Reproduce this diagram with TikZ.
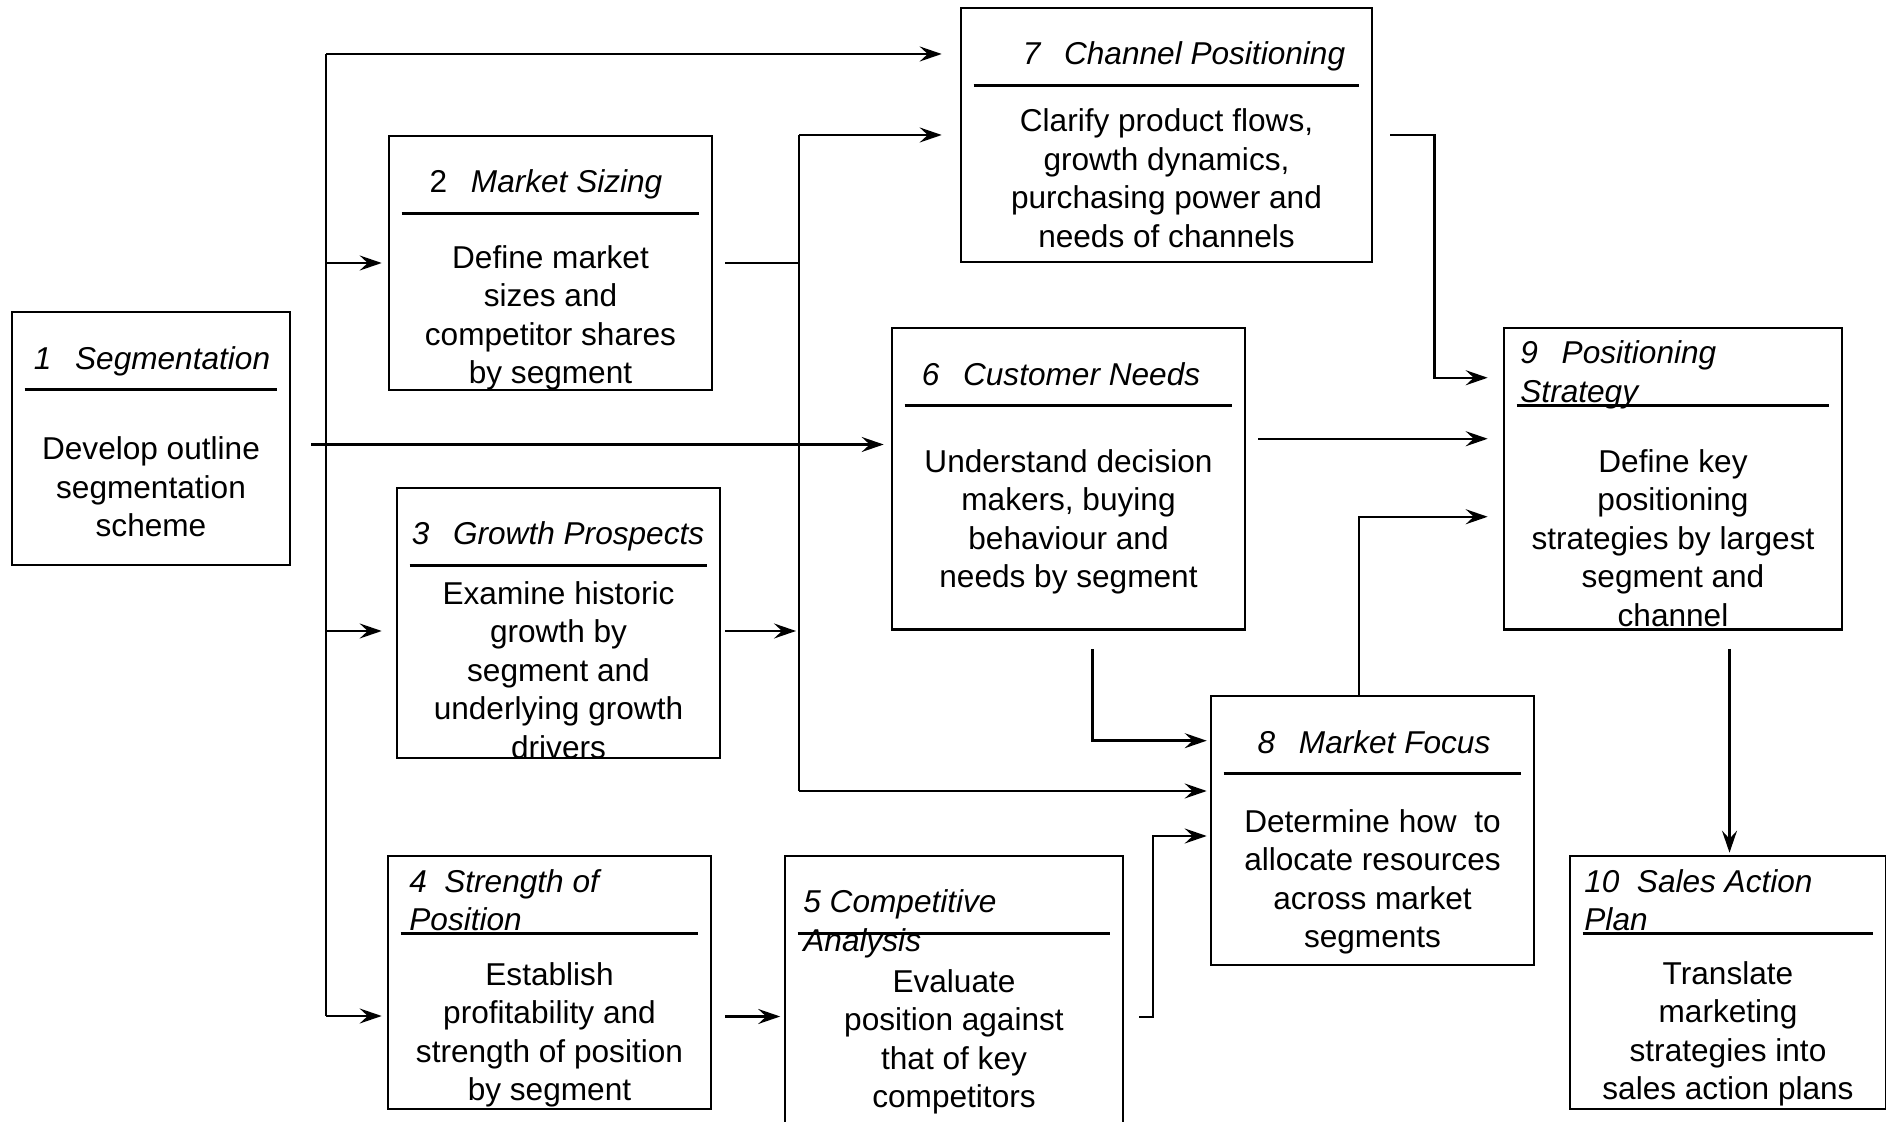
\documentclass[tikz,border=0pt]{standalone}
\usepackage{fontspec}
\setmainfont{Liberation Sans}
\usetikzlibrary{arrows.meta, calc, positioning}
\newcommand{\drawc}{\draw[line width=1.2pt]}
\newcommand{\fnt}{\fontsize{15.8}{19.25}\selectfont}

\begin{document}
\begin{tikzpicture}[x=0.5pt, y=-0.5pt, >={Stealth[length=11pt, width=7.5pt, inset=4pt]},
  stage/.style={draw, line width=1.3pt, inner sep=0pt},
  ttl/.style={font=\fnt\itshape, inner sep=0pt},
  txt/.style={font=\fnt, align=center, inner sep=0pt},
  rule/.style={line width=1.4pt}]
\useasboundingbox (0,0) rectangle (1886,1122);
% Khung cac buoc
\node[stage, minimum width=139pt, minimum height=126.5pt] (b1) at (151,438.5) {};
\node[stage, minimum width=161.5pt, minimum height=127pt] (b2) at (550.5,263) {};
\node[stage, minimum width=161.5pt, minimum height=135pt] (b3) at (558.5,623) {};
\node[stage, minimum width=161.5pt, minimum height=126.5pt] (b4) at (549.5,982.5) {};
\node[stage, minimum width=169pt, minimum height=139.5pt] (b5) at (954,995.5) {};
\node[stage, minimum width=176.5pt, minimum height=150.75pt] (b6) at (1068.5,478.75) {};
\node[stage, minimum width=205.5pt, minimum height=127pt] (b7) at (1166.5,135) {};
\node[stage, minimum width=161.5pt, minimum height=134.5pt] (b8) at (1372.5,830.5) {};
\node[stage, minimum width=169pt, minimum height=150.75pt] (b9) at (1673,478.75) {};
\node[stage, minimum width=158pt, minimum height=126.5pt] (b10) at (1728,982.5) {};
\foreach \b in {b1,b2,b3,b4,b5,b6,b7,b8,b9,b10}
  \draw[rule] ($(\b.north west)+(14,79)$) -- ($(\b.north east)+(-14,79)$);
% Tieu de
\node[ttl] (t1) at (152,361) {1\hspace{0.75em}Segmentation};
\node[ttl] (t2) at (546,184) {\upshape 2\hspace{0.75em}\itshape Market Sizing};
\node[ttl] (t3) at (558,536) {3\hspace{0.75em}Growth Prospects};
\node[ttl] (t6) at (1061,374) {6\hspace{0.75em}Customer Needs};
\node[ttl] (t7) at (1184,56) {7\hspace{0.75em}Channel Positioning};
\node[ttl] (t8) at (1374,742) {8\hspace{0.75em}Market Focus};
\node[ttl, anchor=west, align=left] (t9) at (1520,375) {9\hspace{0.75em}Positioning\\Strategy};
\node[ttl, anchor=west, align=left] (t4) at (409,900) {4\hspace{0.55em}Strength of\\Position};
\node[ttl, anchor=west, align=left] (t5) at (803,924) {5 Competitive\\Analysis};
\node[ttl, anchor=west, align=left] (t10) at (1584,900) {10\hspace{0.55em}Sales Action\\Plan};
% Noi dung
\node[txt] (d1) at (151,487) {Develop outline\\segmentation\\scheme};
\node[txt] (d2) at (550.5,318) {Define market\\sizes and\\competitor shares\\by segment};
\node[txt] (d3) at (558.5,670) {Examine historic\\growth by\\segment and\\underlying growth\\drivers};
\node[txt] (d4) at (549.5,1035) {Establish\\profitability and\\strength of position\\by segment};
\node[txt] (d5) at (954,1042) {Evaluate\\position against\\that of key\\competitors};
\node[txt] (d6) at (1068.5,522) {Understand decision\\makers, buying\\behaviour and\\needs by segment};
\node[txt] (d7) at (1166.5,178) {Clarify product flows,\\growth dynamics,\\purchasing power and\\needs of channels};
\node[txt] (d8) at (1372.5,882) {Determine how\ \ to\\allocate resources\\across market\\segments};
\node[txt] (d9) at (1673,538) {Define key\\positioning\\strategies by largest\\segment and\\channel};
\node[txt] (d10) at (1728,1034) {Translate\\marketing\\strategies into\\sales action plans};
% Truc tu buoc 1
\coordinate (s1) at (326,54);
\coordinate (s3) at (326,631);
\coordinate (s4) at (326,1016);
\drawc (s1) -- (s4);
\drawc[->, shorten >=9pt] (s1) -- (s1 -| b7.west);
\drawc[->, shorten >=3pt] (s1 |- b2.west) -- (b2.west);
\drawc[->, shorten >=7pt] (s3) -- (s3 -| b3.west);
\drawc[->, shorten >=2.5pt] (s4) -- (s4 -| b4.west);
\drawc[->, shorten >=3.5pt] ($(b1.east)+(20,6)$) coordinate (o1) -- (o1 -| b6.west);
% Truc giua
\coordinate (v1) at (799,135);
\coordinate (v2) at (799,791);
\drawc (v1) -- (v2);
\drawc ($(b2.east)+(12,0)$) -- (v1 |- b2.east);
\drawc[->, shorten >=1.5pt] ($(b3.east)+(4,8)$) coordinate (o3) -- (o3 -| v1);
\drawc[->, shorten >=9pt] (v1) -- (v1 -| b7.west);
\drawc[->, shorten >=1.5pt] (v2) -- (v2 -| b8.west);
\drawc[->, shorten >=1.75pt] ($(b4.east)+(13,34)$) coordinate (o4) -- (o4 -| b5.west);
\drawc[->, shorten >=1.5pt] ($(b5.north east)+(15,162)$) -- ++(13.5,0) |- ($(b8.west)+(0,5.5)$);
\drawc[->, shorten >=1.5pt] ($(b6.south)+(24,18.5)$) |- ($(b8.north west)+(0,46)$);
% Vao buoc 9 va 10
\drawc[->, shorten >=7.5pt] ($(b8.north)+(-13.5,0)$) |- ($(b9.west)+(0,38)$);
\drawc[->, shorten >=7.5pt] ($(b6.east)+(12,-40)$) -- ($(b9.west)+(0,-40)$);
\drawc[->, shorten >=7.5pt] ($(b7.east)+(17,0)$) -- ++(44,0) |- ($(b9.west)+(0,-101)$);
\drawc[->, shorten >=1pt] ($(b9.south)+(56.5,18)$) coordinate (o9) -- (o9 |- b10.north);
\end{tikzpicture}
\end{document}
